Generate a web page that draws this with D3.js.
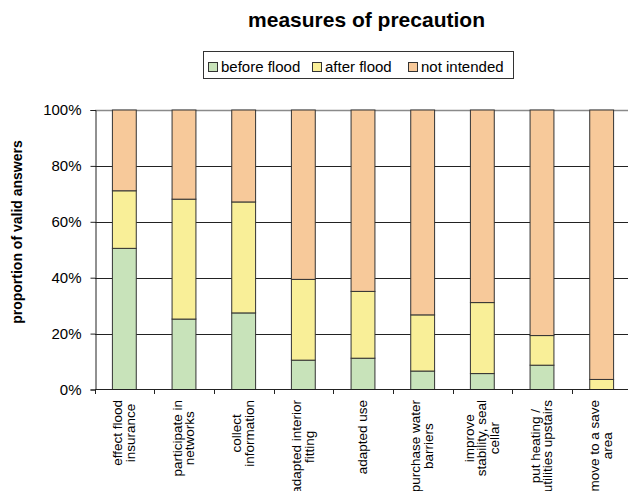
<!DOCTYPE html>
<html><head><meta charset="utf-8">
<script src="https://cdn.jsdelivr.net/npm/d3@7"></script>
<style>
html,body{margin:0;padding:0;background:#fff;overflow:hidden;}
text{font-family:"Liberation Sans",Arial,sans-serif;fill:#000;}
</style></head>
<body>
<svg id="c" width="628" height="491"></svg>
<script>
const categories = [
  ["effect flood","insurance"],
  ["participate in","networks"],
  ["collect","information"],
  ["adapted interior","fitting"],
  ["adapted use"],
  ["purchase water","barriers"],
  ["improve","stability, seal","cellar"],
  ["put heating /","utilities upstairs"],
  ["move to a save","area"]
];
const seriesNames = ["before flood","after flood","not intended"];
const beforeFlood = [50.5, 25.2, 27.4, 10.5, 11.2, 6.6, 5.7, 8.7, 0];
const afterFlood  = [20.6, 42.9, 39.7, 28.9, 23.9, 20.1, 25.4, 10.6, 3.6];
const notIntended = [28.9, 31.9, 32.9, 60.6, 64.9, 73.3, 68.9, 80.7, 96.4];
const yTicks = [0, 20, 40, 60, 80, 100];
const colors = ["#c8e3ba", "#f9ef98", "#f7c99a"];

const svg = d3.select("#c");
const x = d3.scaleBand().domain(d3.range(categories.length)).range([94.5, 631.5]).paddingInner(0.6).paddingOuter(0.3);
const y = d3.scaleLinear().domain([0, 100]).range([389.5, 110]);

const rows = categories.map((c, i) => ({i, before: beforeFlood[i], after: afterFlood[i], not: notIntended[i]}));
const stack = d3.stack().keys(["before","after","not"]);
const stacked = stack(rows);

// gridlines
svg.append("g").selectAll("line").data(yTicks.filter(t => t > 0)).join("line")
  .attr("x1", 95).attr("x2", 628)
  .attr("y1", d => Math.round(y(d)) + 0.5).attr("y2", d => Math.round(y(d)) + 0.5)
  .attr("stroke", d => d === 100 ? "#8a8a8a" : "#222").attr("stroke-width", d => d === 100 ? 1.5 : 1);

// bars
stacked.forEach((s, k) => {
  svg.append("g").selectAll("rect").data(s.filter(d => d[1] - d[0] > 0)).join("rect")
    .attr("x", d => x(d.data.i))
    .attr("width", x.bandwidth())
    .attr("y", d => y(d[1]))
    .attr("height", d => y(d[0]) - y(d[1]))
    .attr("fill", colors[k])
    .attr("stroke", "#333").attr("stroke-width", 1);
});

// y axis
const yAxis = d3.axisLeft(y).tickValues(yTicks).tickFormat(d => d + "%").tickSizeOuter(0).tickSize(5).tickPadding(9);
const gy = svg.append("g").attr("transform", "translate(95.5,0)").call(yAxis);
gy.select(".domain").attr("stroke", "#222");
gy.selectAll(".tick line").attr("stroke", "#222");
gy.selectAll(".tick text").attr("font-size", 15).attr("font-family", "Liberation Sans, Arial, sans-serif").attr("fill", "#000");

// x axis line and ticks
svg.append("line").attr("x1", 95).attr("x2", 628).attr("y1", 389.5).attr("y2", 389.5).attr("stroke", "#222");
const step = x.step();
svg.append("g").selectAll("line").data(d3.range(categories.length + 1)).join("line")
  .attr("x1", i => Math.round(94.5 + i * step) + 0.5).attr("x2", i => Math.round(94.5 + i * step) + 0.5)
  .attr("y1", 389.5).attr("y2", 394).attr("stroke", "#222");

// x labels
const lg = svg.append("g");
categories.forEach((lines, i) => {
  const cx = x(i) + x.bandwidth() / 2;
  const g = lg.append("g");
  const texts = lines.map((ln, j) => g.append("text").attr("font-size", 13.5).attr("text-anchor", "middle").text(ln));
  const L = d3.max(texts, t => t.node().getComputedTextLength());
  const cy = 400 + L / 2;
  const n = lines.length;
  texts.forEach((t, j) => {
    const bx = cx + 4 + (j - (n - 1) / 2) * 12.5;
    t.attr("transform", `translate(${bx},${cy}) rotate(-90)`);
  });
});

// y title
svg.append("text").attr("transform", "translate(22,232) rotate(-90)")
  .attr("text-anchor", "middle").attr("font-size", 14).attr("font-weight", "bold")
  .text("proportion of valid answers");

// title
svg.append("text").attr("x", 366.5).attr("y", 27).attr("text-anchor", "middle")
  .attr("font-size", 21).attr("font-weight", "bold").text("measures of precaution");

// legend
svg.append("rect").attr("x", 203.5).attr("y", 51.5).attr("width", 310).attr("height", 27)
  .attr("fill", "#fff").attr("stroke", "#333");
const legX = [208, 312, 408];
seriesNames.forEach((nm, k) => {
  svg.append("rect").attr("x", legX[k] + 0.5).attr("y", 62.5).attr("width", 9).attr("height", 9)
    .attr("fill", colors[k]).attr("stroke", "#333");
  svg.append("text").attr("x", legX[k] + 13).attr("y", 72).attr("font-size", 15).text(nm);
});
</script>
</body></html>
